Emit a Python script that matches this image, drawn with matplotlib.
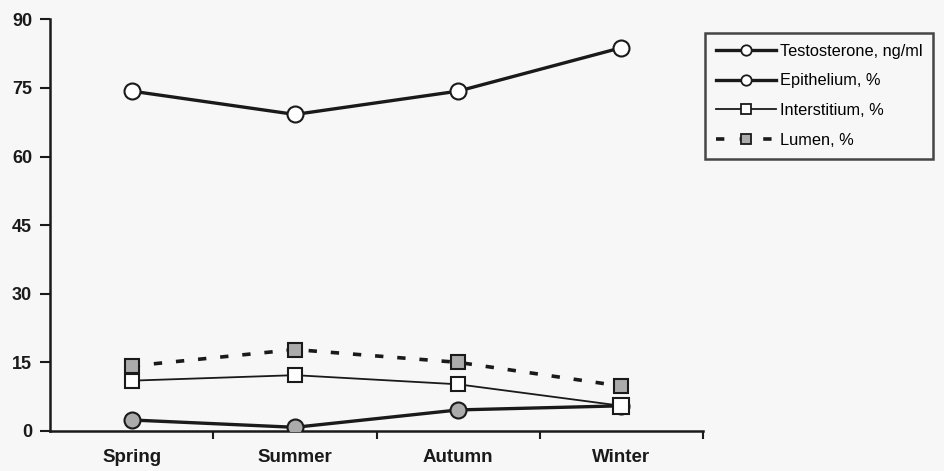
import numpy as np
import matplotlib
matplotlib.use("Agg")
import matplotlib.pyplot as plt
from matplotlib.lines import Line2D

plt.rcParams["font.family"] = ["Liberation Sans", "DejaVu Sans"]
plt.rcParams["lines.scale_dashes"] = False

seasons = ["Spring", "Summer", "Autumn", "Winter"]
testosterone = [2.4, 0.8, 4.6, 5.5]
epithelium = [74.3, 69.2, 74.3, 83.8]
interstitium = [11.0, 12.2, 10.2, 5.5]
lumen = [14.2, 17.8, 15.0, 9.8]
y_ticks = [0, 15, 30, 45, 60, 75, 90]

ink = "#1a1a1a"
grey = "#ababab"

fig = plt.figure(figsize=(9.45, 4.71), dpi=100)
fig.patch.set_facecolor("#f7f7f7")
ax = fig.add_axes([0.053, 0.085, 0.691, 0.874])
ax.set_facecolor("none")

x = np.arange(len(seasons))

ax.plot(x, lumen, color=ink, lw=2.6, dashes=(6, 10), dash_capstyle="butt",
        marker="s", ms=10.5, mfc=grey, mec=ink, mew=1.5, zorder=3)
ax.plot(x, interstitium, color=ink, lw=1.3,
        marker="s", ms=10.5, mfc="white", mec=ink, mew=1.5, zorder=4)
ax.plot(x, testosterone, color=ink, lw=2.4,
        marker="o", ms=11.5, mfc=grey, mec=ink, mew=1.5, zorder=3)
ax.plot(x, epithelium, color=ink, lw=2.4,
        marker="o", ms=11.5, mfc="white", mec=ink, mew=1.5, zorder=3)
# winter interstitium square sits on top of the testosterone point
ax.plot(x[-1:], interstitium[-1:], ls="none",
        marker="s", ms=11.5, mfc="white", mec=ink, mew=1.5, zorder=5)

ax.set_xlim(-0.5, 3.5)
ax.set_ylim(0, 90)
ax.set_yticks(y_ticks)
ax.set_yticklabels([str(v) for v in y_ticks], fontsize=13, fontweight="bold", color=ink)
ax.set_xticks(x)
ax.set_xticklabels(seasons, fontsize=13.5, fontweight="bold", color=ink)
ax.set_xticks([0.5, 1.5, 2.5, 3.5], minor=True)
ax.tick_params(axis="x", which="major", length=0, pad=13)
ax.tick_params(axis="x", which="minor", length=6, width=1.5, direction="out", color=ink)
ax.tick_params(axis="y", length=7, width=1.5, direction="out", color=ink, pad=6)

for side in ["top", "right"]:
    ax.spines[side].set_visible(False)
for side in ["left", "bottom"]:
    ax.spines[side].set_linewidth(1.8)
    ax.spines[side].set_color(ink)

handles = [
    Line2D([], [], color=ink, lw=2.4, marker="o", ms=7.5, mfc="white", mec=ink, mew=1.3),
    Line2D([], [], color=ink, lw=2.4, marker="o", ms=7.5, mfc="white", mec=ink, mew=1.3),
    Line2D([], [], color=ink, lw=1.3, marker="s", ms=7.5, mfc="white", mec=ink, mew=1.3),
    Line2D([], [], color=ink, lw=2.6, dashes=(6, 11), marker="s", ms=7.5, mfc=grey, mec=ink, mew=1.3),
]
labels = ["Testosterone, ng/ml", "Epithelium, %", "Interstitium, %", "Lumen, %"]
leg = fig.legend(handles, labels, loc="upper left", bbox_to_anchor=(0.746, 0.930),
                 fontsize=11.8, frameon=True, fancybox=False, handlelength=3.7,
                 handletextpad=0.2, labelspacing=0.9, borderpad=0.65, borderaxespad=0)
leg.get_frame().set_edgecolor(ink)
leg.get_frame().set_linewidth(1.8)
leg.get_frame().set_facecolor("none")

fig.savefig("out.png", dpi=100, facecolor=fig.get_facecolor())
